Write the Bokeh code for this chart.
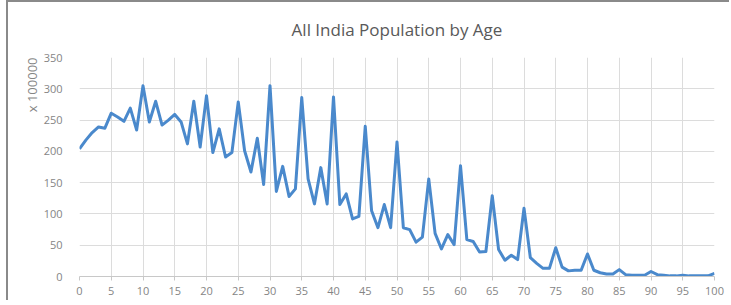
from bokeh.plotting import figure
from bokeh.models import Title, FixedTicker, Range1d
from bokeh.embed import file_html
from bokeh.resources import INLINE

title_text = "All India Population by Age"
y_axis_text = "x 100000"

ages = list(range(0, 101))
population = [
    204, 218, 230, 239, 237, 261, 255, 248, 269, 234,   # 0-9
    305, 247, 280, 242, 250, 259, 247, 212, 280, 207,   # 10-19
    289, 198, 236, 191, 198, 279, 201, 167, 221, 147,   # 20-29
    305, 136, 176, 128, 140, 286, 156, 116, 174, 116,   # 30-39
    287, 115, 132, 92, 96, 240, 105, 78, 115, 78,       # 40-49
    215, 78, 75, 55, 63, 156, 69, 44, 67, 51,           # 50-59
    177, 59, 56, 39, 40, 129, 43, 26, 34, 27,           # 60-69
    109, 30, 21, 13, 13, 46, 15, 9, 10, 10,             # 70-79
    36, 10, 6, 4, 4, 11, 3, 2, 2, 2,                    # 80-89
    8, 3, 2, 1, 1, 2, 1, 1, 1, 1,                       # 90-99
    5,                                                  # 100
]
x_ticks = list(range(0, 101, 5))
y_ticks = list(range(0, 351, 50))

FONT = "Open Sans"
LINE_COLOR = "#4a89cc"
GRID_COLOR = "#dcdcdc"
TEXT_COLOR = "#858585"

p = figure(width=723, height=300, output_backend="svg", toolbar_location=None,
           x_range=Range1d(0, 100), y_range=Range1d(0, 350),
           min_border_left=71, min_border_right=17, min_border_top=55, min_border_bottom=26)
p.styles = {"border-top": "2px solid #8a8a8a", "border-left": "2px solid #8a8a8a",
            "margin-left": "6px"}

p.line(ages, population, line_color=LINE_COLOR, line_width=3, line_join="round")

p.title.text = title_text
p.title.align = "center"
p.title.vertical_align = "top"
p.title.text_font = FONT
p.title.text_font_size = "17px"
p.title.text_font_style = "normal"
p.title.text_color = "#595959"
p.title.standoff = 29

p.add_layout(Title(text=y_axis_text, align="right", text_font=FONT, text_font_size="13px",
                   text_font_style="normal", text_color=TEXT_COLOR, standoff=0), "left")

p.xaxis.ticker = FixedTicker(ticks=x_ticks)
p.yaxis.ticker = FixedTicker(ticks=y_ticks)
for ax in (p.xaxis, p.yaxis):
    ax.minor_tick_line_color = None
    ax.major_label_text_font = FONT
    ax.major_label_text_font_size = "11px"
    ax.major_label_text_color = TEXT_COLOR
p.yaxis.major_tick_line_color = None
p.yaxis.axis_line_color = None
p.xaxis.axis_line_color = "#c8c8c8"
p.xaxis.major_tick_line_color = "#c8c8c8"
p.xaxis.major_tick_in = 0
p.xaxis.major_tick_out = 4
p.xaxis.major_label_standoff = 6
p.yaxis.major_label_standoff = 11

p.xgrid.ticker = FixedTicker(ticks=x_ticks)
p.ygrid.ticker = FixedTicker(ticks=y_ticks)
p.xgrid.grid_line_color = GRID_COLOR
p.ygrid.grid_line_color = GRID_COLOR
p.outline_line_color = None

open("out.html", "w").write(file_html(p, INLINE))
